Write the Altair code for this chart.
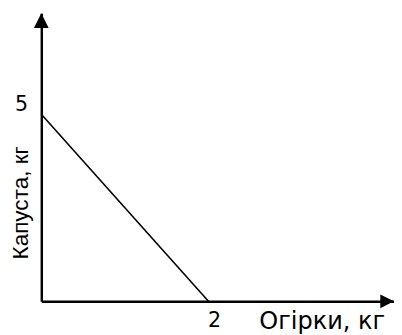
import altair as alt
import pandas as pd

# Data
line_x = [0, 2]
line_y = [5, 0]
x_ticks = [2]
y_ticks = [5]
x_title = "Огірки, кг"
y_title = "Капуста, кг"
X_MAX = 4.22
Y_MAX = 7.7

FONT = "Liberation Sans"
XFONT = "DejaVu Sans"

line_df = pd.DataFrame({"x": line_x, "y": line_y})
arrow_up_df = pd.DataFrame({"x": [0], "y": [Y_MAX]})
arrow_right_df = pd.DataFrame({"x": [X_MAX], "y": [0]})

xscale = alt.Scale(domain=[0, X_MAX], nice=False, zero=False)
yscale = alt.Scale(domain=[0, Y_MAX], nice=False, zero=False)

x_axis = alt.Axis(
    values=x_ticks, format="d", ticks=False, grid=False, domainColor="black", domainWidth=2.5,
    labelFont=XFONT, labelFontSize=21, labelColor="black", labelAlign="left",
    labelPadding=26, labelBaseline="alphabetic", labelOffset=-1,
    title=x_title, titleFont=XFONT, titleFontSize=24.5, titleFontWeight="normal",
    titleColor="black", titleX=222, titleY=28, titleAlign="left",
    titleBaseline="alphabetic", titleAnchor="start",
)
y_axis = alt.Axis(
    values=y_ticks, format="d", ticks=False, grid=False, domainColor="black", domainWidth=2.5,
    labelFont=XFONT, labelFontSize=21, labelColor="black", labelAlign="right",
    labelPadding=14, labelBaseline="alphabetic", labelOffset=-3.5,
    title=y_title, titleFont=FONT, titleFontSize=23, titleFontWeight="normal",
    titleColor="black", titleX=-21, titleY=193, titleAngle=270, titleAlign="center",
    titleBaseline="middle",
)

line = alt.Chart(line_df).mark_line(color="black", strokeWidth=1.6).encode(
    x=alt.X("x:Q", scale=xscale, axis=x_axis),
    y=alt.Y("y:Q", scale=yscale, axis=y_axis),
)

arrow_up = alt.Chart(arrow_up_df).mark_point(
    shape="M0,0L-1,2L1,2Z", size=225, filled=True, color="black", opacity=1
).encode(x=alt.X("x:Q", scale=xscale), y=alt.Y("y:Q", scale=yscale))

arrow_right = alt.Chart(arrow_right_df).mark_point(
    shape="M0,0L-2,-1L-2,1Z", size=196, filled=True, color="black", opacity=1
).encode(x=alt.X("x:Q", scale=xscale), y=alt.Y("y:Q", scale=yscale))

chart = alt.layer(line, arrow_up, arrow_right).properties(
    width=360, height=294,
    autosize=alt.AutoSizeParams(type="none"),
    padding={"left": 34, "top": 2, "right": 0, "bottom": 31},
    background="white",
).configure_view(stroke=None)

chart.save("out.html", embed_options={"renderer": "svg", "actions": False})
